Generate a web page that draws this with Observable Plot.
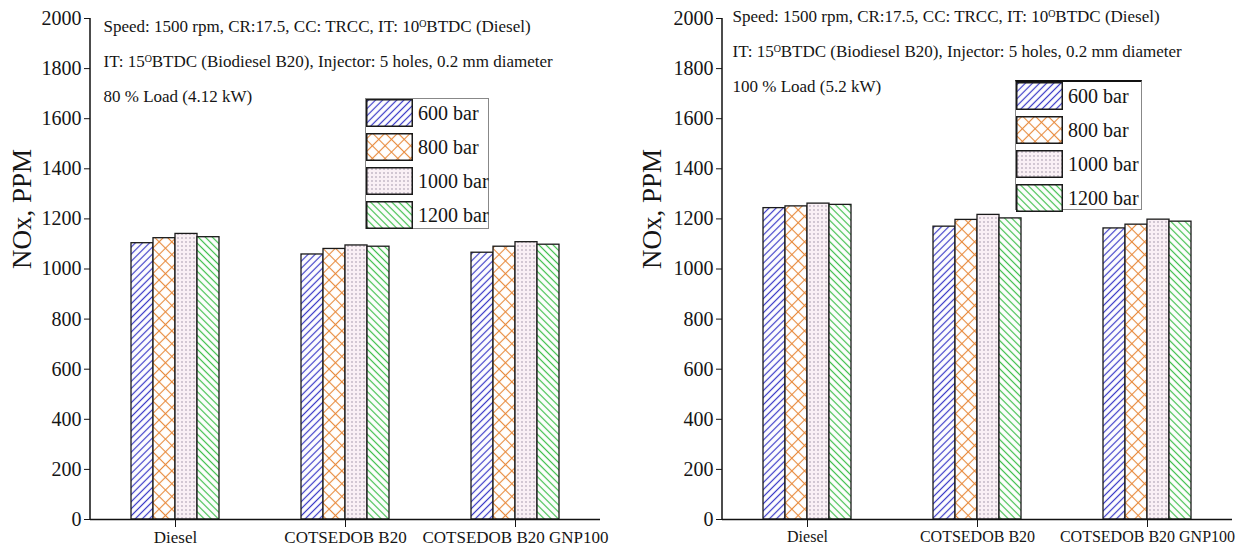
<!DOCTYPE html>
<html><head><meta charset="utf-8">
<script src="https://cdn.jsdelivr.net/npm/d3@7"></script>
<script src="https://cdn.jsdelivr.net/npm/@observablehq/plot@0.6"></script>
<style>
body{margin:0;background:#fff;font-family:"Liberation Serif",serif;}
#wrap{position:relative;width:1241px;height:555px;overflow:hidden;}
.panel{position:absolute;top:0;}
.legend{position:absolute;background:#fff;border:1px solid #888;box-sizing:border-box;}
.legend .row{display:flex;align-items:center;height:28px;margin-bottom:6px;}
.legend .row:last-child{margin-bottom:0;}
.legend svg{display:block;flex:none;}
.legend span{font-size:20px;color:#151515;padding-left:5px;white-space:nowrap;line-height:1;}
</style></head><body>
<svg width="0" height="0" style="position:absolute"><defs id="pdefs"></defs></svg>
<div id="wrap"></div>
<script>
// ---- data ----
const categories = ["Diesel", "COTSEDOB B20", "COTSEDOB B20 GNP100"];
const series = ["600 bar", "800 bar", "1000 bar", "1200 bar"];
const yTicks = [0, 200, 400, 600, 800, 1000, 1200, 1400, 1600, 1800, 2000];
// 80 % load (4.12 kW)
const nox80_600 = [1103, 1058, 1065];
const nox80_800 = [1123, 1080, 1089];
const nox80_1000 = [1140, 1094, 1107];
const nox80_1200 = [1127, 1089, 1097];
// 100 % load (5.2 kW)
const nox100_600 = [1243, 1169, 1162];
const nox100_800 = [1250, 1196, 1177];
const nox100_1000 = [1261, 1216, 1197];
const nox100_1200 = [1256, 1202, 1189];
const ann80 = "Speed: 1500 rpm, CR:17.5, CC: TRCC, IT: 10ᴼBTDC (Diesel)\nIT: 15ᴼBTDC (Biodiesel B20), Injector: 5 holes, 0.2 mm diameter\n80 % Load (4.12 kW)";
const ann100 = "Speed: 1500 rpm, CR:17.5, CC: TRCC, IT: 10ᴼBTDC (Diesel)\nIT: 15ᴼBTDC (Biodiesel B20), Injector: 5 holes, 0.2 mm diameter\n100 % Load (5.2 kW)";
const yLabel = "NOx, PPM";

// ---- patterns ----
const defs = d3.select("#pdefs");
function hatch(id, color, spacing, angle, bg, sw) {
  const p = defs.append("pattern").attr("id", id).attr("patternUnits", "userSpaceOnUse")
    .attr("width", spacing).attr("height", spacing).attr("patternTransform", `rotate(${angle})`);
  p.append("rect").attr("width", spacing).attr("height", spacing).attr("fill", bg);
  p.append("line").attr("x1", spacing/2).attr("x2", spacing/2).attr("y1", 0).attr("y2", spacing)
    .attr("stroke", color).attr("stroke-width", sw);
}
hatch("pat0", "#3c3cc8", 5, 45, "#fff", 1.2);
(function(){
  const s = 9;
  const p = defs.append("pattern").attr("id", "pat1").attr("patternUnits", "userSpaceOnUse")
    .attr("width", s).attr("height", s).attr("patternTransform", "rotate(45)");
  p.append("rect").attr("width", s).attr("height", s).attr("fill", "#fff");
  p.append("line").attr("x1", 0).attr("x2", s).attr("y1", s/2).attr("y2", s/2).attr("stroke", "#e88a3c").attr("stroke-width", 1.1);
  p.append("line").attr("x1", s/2).attr("x2", s/2).attr("y1", 0).attr("y2", s).attr("stroke", "#e88a3c").attr("stroke-width", 1.1);
})();
(function(){
  const p = defs.append("pattern").attr("id", "pat2").attr("patternUnits", "userSpaceOnUse")
    .attr("width", 4).attr("height", 4);
  p.append("rect").attr("width", 4).attr("height", 4).attr("fill", "#faf0f5");
  p.append("circle").attr("cx", 2).attr("cy", 2).attr("r", 0.7).attr("fill", "#8c7f96");
})();
hatch("pat3", "#3fbf4c", 5, -45, "#fff", 1.2);
const patUrls = series.map((s, j) => `url(#pat${j})`);

// ---- panel ----
function panel(cols, ann, opt) {
  const data = [];
  series.forEach((s, j) => categories.forEach((c, i) => data.push({cat: c, series: s, value: cols[j][i]})));
  const chart = Plot.plot({
    width: opt.width, height: 555,
    marginTop: 18, marginBottom: opt.marginBottom, marginLeft: opt.marginLeft, marginRight: opt.marginRight,
    style: {fontFamily: "Liberation Serif", fontSize: "20px", color: "#151515", background: "transparent", overflow: "visible"},
    fx: {domain: categories, padding: 0, label: null},
    x: {domain: series, paddingInner: 0, paddingOuter: 1.73, axis: null},
    y: {domain: [0, 2000], label: null},
    color: {type: "ordinal", domain: series, range: patUrls},
    marks: [
      Plot.barY(data, {fx: "cat", x: "series", y: "value", fill: "series", stroke: "#1a1a1a", strokeWidth: 1.3}),
      Plot.ruleY([0], {stroke: "#111", strokeWidth: 1.5}),
      Plot.axisY({ticks: yTicks, tickFormat: d3.format("d"), tickSize: 6, tickPadding: 3, fontSize: 20, label: null}),
      Plot.axisFx({anchor: "bottom", tickSize: 8, tickPadding: 3, fontSize: opt.fxFont, label: null}),
      Plot.text([yLabel], {fx: () => categories[0], frameAnchor: "left", rotate: -90, dx: opt.labelDx, fontSize: 27, fill: "#151515"}),
      Plot.text([ann], {fx: () => categories[0], frameAnchor: "top-left", textAnchor: "start", lineAnchor: "top",
        lineHeight: 2.05, dx: opt.annDx, dy: opt.annDy, fontSize: 17, fill: "#151515"})
    ]
  });
  const ys = chart.scale("y");
  d3.select(chart).append("line")
    .attr("x1", opt.marginLeft).attr("x2", opt.marginLeft)
    .attr("y1", ys.apply(2000)).attr("y2", ys.apply(0))
    .attr("stroke", "#111").attr("stroke-width", 1.5);
  const div = d3.select("#wrap").append("div").attr("class", "panel").style("left", opt.left + "px");
  div.node().appendChild(chart);
  return chart;
}

panel([nox80_600, nox80_800, nox80_1000, nox80_1200], ann80,
  {left: 0, width: 620, marginLeft: 90, marginRight: 20, marginBottom: 36, labelDx: -68, annDx: 13, annDy: -11, fxFont: 17});
panel([nox100_600, nox100_800, nox100_1000, nox100_1200], ann100,
  {left: 620, width: 621, marginLeft: 102, marginRight: 9, marginBottom: 36, labelDx: -70, annDx: 10, annDy: -21, fxFont: 16});

// ---- legends ----
function legend(left, top, w, h, topBorder) {
  const div = d3.select("#wrap").append("div").attr("class", "legend")
    .style("left", left + "px").style("top", top + "px").style("width", w + "px").style("height", h + "px");
  if (topBorder) div.style("border-top", "2px solid #111");
  series.forEach((s, j) => {
    const row = div.append("div").attr("class", "row");
    const sv = row.append("svg").attr("width", 47).attr("height", 28);
    sv.append("rect").attr("x", 0.75).attr("y", 0.75).attr("width", 45.5).attr("height", 26.5)
      .attr("fill", patUrls[j]).attr("stroke", "#1a1a1a").attr("stroke-width", 1.5);
    row.append("span").text(s);
  });
}
legend(365, 98, 124, 131, false);
legend(1015, 80, 127, 130, true);
</script>
</body></html>
